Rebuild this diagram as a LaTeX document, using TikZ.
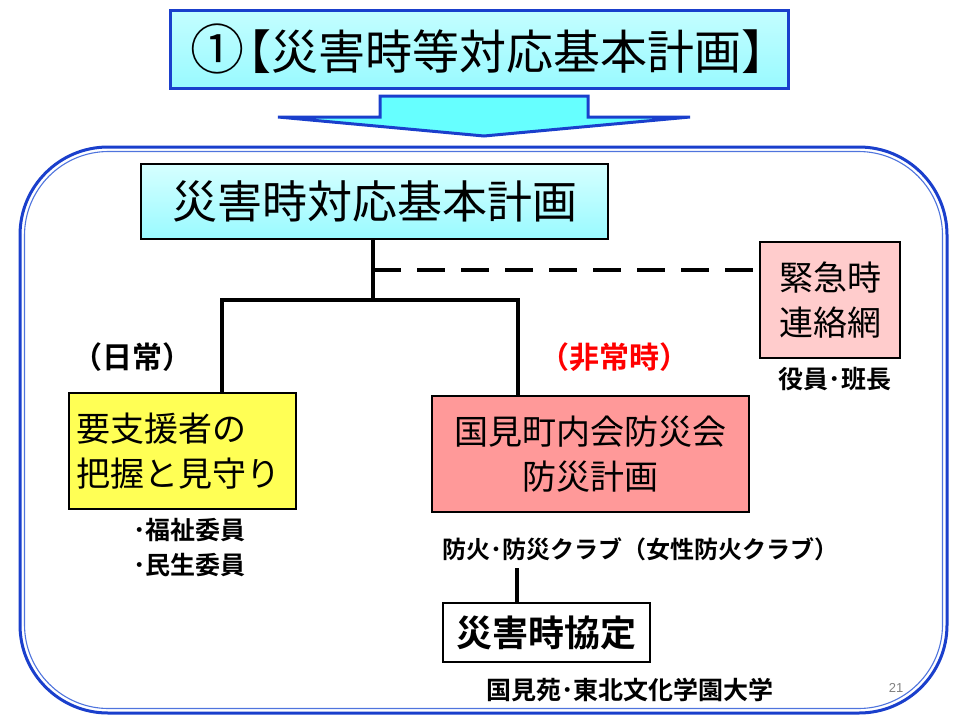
\documentclass[tikz,border=0pt]{standalone}
\usepackage{fontspec}
\setmainfont{Noto Sans CJK JP}
\newfontfamily\jpbold{Noto Sans CJK JP Bold}
\newfontfamily\numfont{Liberation Sans}
\definecolor{frameblue}{HTML}{1A3FCC}
\definecolor{lightframe}{HTML}{4F74DD}
\definecolor{cyanA}{HTML}{D6FFFF}
\definecolor{cyanB}{HTML}{99FAFF}
\definecolor{arrowcyan}{HTML}{66FFFF}
\definecolor{pinklight}{HTML}{FFCCCC}
\definecolor{pinkmid}{HTML}{FF9999}
\definecolor{yellowbox}{HTML}{FFFF55}
\tikzset{
  titlebox/.style={draw=frameblue, line width=3pt, top color=cyanA!70!cyanB, bottom color=cyanB, minimum width=618pt, minimum height=78pt, inner sep=0pt, font=\fontsize{47}{50}\selectfont},
  mainbox/.style={draw=black, line width=1.3pt, top color=cyanA, bottom color=cyanB, minimum width=467pt, minimum height=75pt, inner sep=0pt, font=\fontsize{45}{48}\selectfont},
  plainbox/.style={draw=black, line width=1.3pt, inner sep=0pt, font=\fontsize{34}{45}\selectfont},
  conn/.style={line width=4pt, black},
  dashconn/.style={line width=4pt, black, dash pattern=on 28pt off 16pt},
  smalllabel/.style={font=\jpbold\fontsize{25}{35}\selectfont, inner sep=0pt},
  caseLabel/.style={font=\jpbold\fontsize{30}{32}\selectfont, inner sep=0pt}
}
\begin{document}
\begin{tikzpicture}[x=1pt,y=-1pt]
\useasboundingbox (0,0) rectangle (960,720);
% outer frame
\draw[frameblue, line width=3pt, rounded corners=88pt] (20,147) rectangle (947,713);
\draw[lightframe, line width=1.1pt, rounded corners=84pt] (24.5,151.5) rectangle (942.5,708.5);
% title
\node[titlebox] (title) at (479,49) {\kern20pt{\fontsize{54}{54}\selectfont ①}\kern-20pt【災害時等対応基本計画】};
% big arrow
\draw[frameblue, line width=3pt, fill=arrowcyan, line join=miter]
  (380,96) -- (588,96) -- (588,117) -- (690,117) -- (484,136) -- (278,117) -- (380,117) -- cycle;
% main box
\node[mainbox] (main) at (374.5,201.5) {災害時対応基本計画};
% emergency contact box
\node[plainbox, fill=pinklight, minimum width=140pt, minimum height=116pt, align=center] (kinkyu) at (830,300) {緊急時\\連絡網};
\node[smalllabel] (yakuin) at (835,379) {役員･班長};
% yellow box
\node[plainbox, fill=yellowbox, minimum width=227pt, minimum height=116pt, text width=213pt, align=left] (yellow) at (182.5,451) {要支援者の\\把握と見守り};
% pink box
\node[plainbox, fill=pinkmid, minimum width=317pt, minimum height=116pt, align=center] (pink) at (590.5,454) {国見町内会防災会\\防災計画};
% labels
\node[caseLabel] (nichijo) at (132,357) {（日常）};
\node[caseLabel, text=red] (hijoji) at (614,357) {（非常時）};
\node[smalllabel, align=left, anchor=west] (iin) at (133,548) {･福祉委員\\･民生委員};
\node[font=\jpbold\fontsize{24}{30}\selectfont, inner sep=0pt] (club) at (640,549) {防火･防災クラブ（女性防火クラブ）};
% agreement box
\node[plainbox, fill=white, minimum width=207pt, minimum height=59pt, font=\jpbold\fontsize{36}{40}\selectfont] (kyotei) at (546.5,632.5) {災害時協定};
\node[smalllabel] (credit) at (630,690) {国見苑･東北文化学園大学};
\node[font=\numfont\fontsize{13}{14}\selectfont, text=gray] (pagenum) at (896,688) {21};
% connectors
\coordinate (jc) at (373,300);
\coordinate (jd) at (373,270);
\coordinate (jl) at (222,300);
\coordinate (jr) at (518,300);
\coordinate (clubtop) at (517,568);
\draw[conn] (main.south -| jc) -- (jc);
\draw[dashconn] (jd) -- (kinkyu.west |- jd);
\draw[conn, line cap=rect] (jl) -- (jr);
\draw[conn] (jl) -- (jl |- yellow.north);
\draw[conn] (jr) -- (jr |- pink.north);
\draw[conn] (clubtop) -- (clubtop |- kyotei.north);
\end{tikzpicture}
\end{document}
